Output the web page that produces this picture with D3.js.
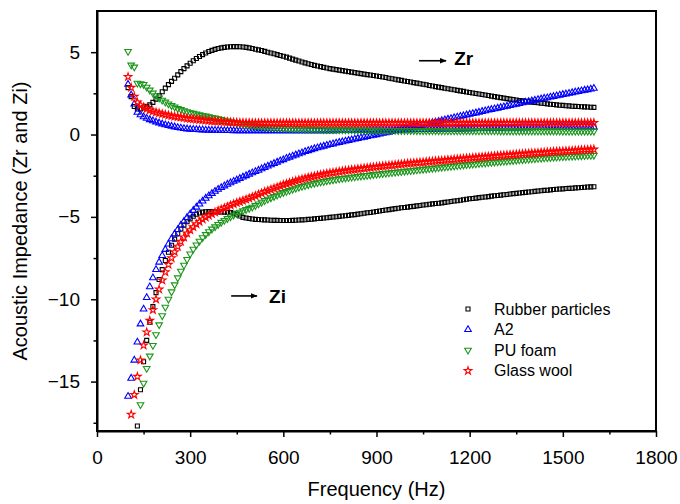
<!DOCTYPE html>
<html>
<head>
<meta charset="utf-8">
<script src="https://cdn.jsdelivr.net/npm/d3@7"></script>
<style>
  body { margin: 0; background: #fff; overflow: hidden; }
  svg { display: block; }
  text { font-family: "Liberation Sans", Arial, sans-serif; }
  .axis .domain { stroke-width: 2px; }
  .axis line { stroke-width: 1.5px; }
</style>
</head>
<body>
<svg width="680" height="504"></svg>
<script>
// frequency points, 100..1600 Hz every 10 Hz
const freq = d3.range(100, 1601, 10);

// Rubber particles
const rubberZr = [2.85, 2.3, 1.7, 1.55, 1.55, 1.62, 1.7, 1.8, 1.95, 2.15,
  2.36, 2.6, 2.82, 3.03, 3.23, 3.42, 3.62, 3.82, 4.0, 4.17,
  4.33, 4.48, 4.62, 4.74, 4.85, 4.95, 5.04, 5.11, 5.17, 5.22,
  5.26, 5.29, 5.31, 5.33, 5.34, 5.34, 5.33, 5.31, 5.29, 5.26,
  5.22, 5.18, 5.14, 5.1, 5.05, 5.0, 4.95, 4.9, 4.85, 4.8,
  4.75, 4.7, 4.64, 4.58, 4.52, 4.46, 4.4, 4.35, 4.3, 4.25,
  4.2, 4.16, 4.12, 4.08, 4.04, 4.0, 3.97, 3.94, 3.91, 3.88,
  3.85, 3.82, 3.79, 3.76, 3.73, 3.7, 3.67, 3.64, 3.61, 3.58,
  3.55, 3.52, 3.49, 3.46, 3.42, 3.39, 3.36, 3.32, 3.29, 3.25,
  3.22, 3.19, 3.15, 3.12, 3.08, 3.05, 3.02, 2.98, 2.95, 2.91,
  2.88, 2.85, 2.81, 2.78, 2.75, 2.72, 2.68, 2.65, 2.62, 2.58,
  2.55, 2.52, 2.49, 2.46, 2.43, 2.4, 2.37, 2.33, 2.3, 2.27,
  2.24, 2.21, 2.18, 2.15, 2.13, 2.1, 2.07, 2.05, 2.02, 2.0,
  1.97, 1.95, 1.93, 1.9, 1.88, 1.86, 1.84, 1.82, 1.8, 1.78,
  1.77, 1.75, 1.74, 1.72, 1.71, 1.7, 1.69, 1.68, 1.67, 1.66,
  1.65];
const rubberZi = [null, null, null, -17.7, -15.5, -13.8, -12.5, -11.4, -10.45, -9.6,
  -8.8, -8.2, -7.65, -7.15, -6.72, -6.35, -6.02, -5.74, -5.5, -5.3,
  -5.12, -4.96, -4.84, -4.76, -4.71, -4.69, -4.68, -4.68, -4.69, -4.7,
  -4.7, -4.71, -4.72, -4.74, -4.78, -4.85, -4.95, -5.03, -5.07, -5.1,
  -5.13, -5.15, -5.16, -5.17, -5.18, -5.19, -5.2, -5.21, -5.21, -5.22,
  -5.22, -5.22, -5.22, -5.21, -5.2, -5.19, -5.18, -5.17, -5.15, -5.14,
  -5.12, -5.1, -5.09, -5.07, -5.05, -5.03, -5.01, -4.99, -4.97, -4.95,
  -4.93, -4.91, -4.88, -4.86, -4.83, -4.81, -4.78, -4.75, -4.73, -4.7,
  -4.67, -4.64, -4.61, -4.58, -4.56, -4.53, -4.5, -4.48, -4.45, -4.43,
  -4.41, -4.38, -4.36, -4.33, -4.31, -4.28, -4.26, -4.23, -4.21, -4.19,
  -4.17, -4.15, -4.12, -4.1, -4.07, -4.04, -4.02, -3.99, -3.96, -3.93,
  -3.9, -3.88, -3.86, -3.83, -3.81, -3.79, -3.77, -3.74, -3.72, -3.7,
  -3.68, -3.66, -3.64, -3.61, -3.59, -3.57, -3.55, -3.53, -3.51, -3.49,
  -3.47, -3.45, -3.43, -3.41, -3.39, -3.38, -3.36, -3.34, -3.32, -3.31,
  -3.3, -3.28, -3.27, -3.26, -3.24, -3.23, -3.22, -3.2, -3.19, -3.18,
  -3.17];

// A2
const a2Zr = [3.05, 2.4, 1.85, 1.35, 1.2, 1.07, 0.98, 0.9, 0.83, 0.76,
  0.7, 0.64, 0.59, 0.54, 0.5, 0.46, 0.42, 0.39, 0.36, 0.34,
  0.32, 0.31, 0.3, 0.29, 0.28, 0.27, 0.26, 0.26, 0.25, 0.25,
  0.25, 0.24, 0.24, 0.24, 0.23, 0.23, 0.23, 0.23, 0.22, 0.22,
  0.22, 0.22, 0.22, 0.22, 0.22, 0.22, 0.22, 0.22, 0.22, 0.22,
  0.22, 0.22, 0.22, 0.22, 0.22, 0.22, 0.22, 0.22, 0.22, 0.22,
  0.22, 0.22, 0.22, 0.23, 0.23, 0.23, 0.23, 0.23, 0.24, 0.24,
  0.24, 0.24, 0.24, 0.25, 0.25, 0.25, 0.25, 0.26, 0.26, 0.26,
  0.26, 0.26, 0.27, 0.27, 0.27, 0.28, 0.28, 0.28, 0.28, 0.29,
  0.29, 0.29, 0.29, 0.3, 0.3, 0.3, 0.3, 0.31, 0.31, 0.31,
  0.32, 0.32, 0.32, 0.33, 0.33, 0.33, 0.34, 0.34, 0.34, 0.35,
  0.35, 0.35, 0.36, 0.36, 0.36, 0.37, 0.37, 0.37, 0.38, 0.38,
  0.38, 0.39, 0.39, 0.39, 0.4, 0.4, 0.4, 0.41, 0.41, 0.41,
  0.41, 0.42, 0.42, 0.42, 0.42, 0.43, 0.43, 0.43, 0.43, 0.44,
  0.44, 0.44, 0.44, 0.44, 0.45, 0.45, 0.45, 0.45, 0.45, 0.45,
  0.45];
const a2Zi = [-15.9, -14.8, -13.7, -12.6, -11.5, -10.6, -9.9, -9.25, -8.7, -8.2,
  -7.75, -7.35, -6.98, -6.65, -6.33, -6.04, -5.77, -5.51, -5.27, -5.04,
  -4.82, -4.61, -4.41, -4.22, -4.04, -3.87, -3.72, -3.58, -3.45, -3.33,
  -3.22, -3.12, -3.02, -2.93, -2.84, -2.76, -2.67, -2.58, -2.5, -2.41,
  -2.33, -2.25, -2.17, -2.08, -2.0, -1.92, -1.84, -1.76, -1.68, -1.6,
  -1.53, -1.45, -1.38, -1.31, -1.24, -1.17, -1.11, -1.04, -0.98, -0.92,
  -0.86, -0.81, -0.76, -0.71, -0.66, -0.61, -0.57, -0.52, -0.48, -0.44,
  -0.4, -0.36, -0.32, -0.28, -0.24, -0.2, -0.16, -0.12, -0.08, -0.05,
  -0.01, 0.03, 0.07, 0.1, 0.14, 0.18, 0.22, 0.26, 0.3, 0.34,
  0.38, 0.42, 0.46, 0.5, 0.55, 0.59, 0.63, 0.67, 0.72, 0.76,
  0.8, 0.84, 0.89, 0.93, 0.97, 1.02, 1.06, 1.1, 1.14, 1.19,
  1.23, 1.27, 1.31, 1.35, 1.4, 1.44, 1.48, 1.52, 1.56, 1.6,
  1.64, 1.68, 1.72, 1.76, 1.8, 1.84, 1.88, 1.92, 1.96, 2.0,
  2.04, 2.08, 2.12, 2.16, 2.2, 2.23, 2.27, 2.31, 2.35, 2.39,
  2.43, 2.46, 2.5, 2.54, 2.58, 2.61, 2.65, 2.69, 2.72, 2.76,
  2.8];

// PU foam
const puZr = [5.05, 4.22, 4.1, 3.12, 3.08, 3.04, 2.88, 2.7, 2.52, 2.36,
  2.22, 2.09, 1.97, 1.86, 1.76, 1.67, 1.59, 1.52, 1.45, 1.39,
  1.33, 1.29, 1.25, 1.2, 1.16, 1.12, 1.08, 1.04, 1.0, 0.96,
  0.92, 0.87, 0.82, 0.78, 0.74, 0.7, 0.67, 0.63, 0.6, 0.57,
  0.54, 0.52, 0.5, 0.48, 0.46, 0.45, 0.43, 0.42, 0.41, 0.4,
  0.39, 0.38, 0.37, 0.36, 0.35, 0.34, 0.34, 0.33, 0.33, 0.32,
  0.32, 0.31, 0.31, 0.3, 0.3, 0.3, 0.29, 0.29, 0.29, 0.28,
  0.28, 0.28, 0.28, 0.27, 0.27, 0.27, 0.27, 0.26, 0.26, 0.26,
  0.26, 0.26, 0.25, 0.25, 0.25, 0.25, 0.25, 0.24, 0.24, 0.24,
  0.24, 0.24, 0.24, 0.23, 0.23, 0.23, 0.23, 0.23, 0.23, 0.23,
  0.22, 0.22, 0.22, 0.22, 0.22, 0.22, 0.22, 0.22, 0.22, 0.22,
  0.22, 0.22, 0.22, 0.22, 0.22, 0.22, 0.22, 0.22, 0.22, 0.22,
  0.21, 0.21, 0.21, 0.21, 0.21, 0.21, 0.21, 0.21, 0.21, 0.21,
  0.21, 0.21, 0.21, 0.21, 0.21, 0.21, 0.21, 0.21, 0.21, 0.21,
  0.2, 0.2, 0.2, 0.2, 0.2, 0.2, 0.2, 0.2, 0.2, 0.2,
  0.2];
const puZi = [null, null, null, null, -16.4, -15.1, -14.2, -13.45, -12.8, -12.15,
  -11.55, -11.0, -10.48, -10.0, -9.55, -9.12, -8.7, -8.3, -7.93, -7.58,
  -7.25, -6.96, -6.7, -6.47, -6.26, -6.07, -5.9, -5.74, -5.6, -5.46,
  -5.33, -5.21, -5.1, -4.99, -4.89, -4.8, -4.71, -4.63, -4.55, -4.48,
  -4.41, -4.31, -4.21, -4.11, -4.01, -3.92, -3.84, -3.76, -3.68, -3.6,
  -3.52, -3.45, -3.39, -3.32, -3.26, -3.2, -3.15, -3.1, -3.05, -3.0,
  -2.96, -2.92, -2.88, -2.85, -2.81, -2.78, -2.75, -2.72, -2.69, -2.66,
  -2.64, -2.62, -2.59, -2.57, -2.54, -2.52, -2.5, -2.48, -2.46, -2.43,
  -2.41, -2.39, -2.37, -2.35, -2.33, -2.31, -2.29, -2.27, -2.25, -2.23,
  -2.21, -2.19, -2.17, -2.15, -2.13, -2.11, -2.09, -2.07, -2.05, -2.03,
  -2.01, -1.99, -1.97, -1.95, -1.93, -1.91, -1.89, -1.87, -1.85, -1.83,
  -1.82, -1.8, -1.78, -1.76, -1.74, -1.73, -1.71, -1.69, -1.67, -1.66,
  -1.64, -1.62, -1.61, -1.59, -1.58, -1.56, -1.54, -1.53, -1.51, -1.5,
  -1.48, -1.47, -1.45, -1.44, -1.42, -1.41, -1.4, -1.38, -1.37, -1.36,
  -1.35, -1.34, -1.33, -1.32, -1.31, -1.3, -1.29, -1.28, -1.27, -1.27,
  -1.26];

// Glass wool
const glassZr = [3.5, 2.85, 2.3, 1.95, 1.78, 1.66, 1.56, 1.48, 1.41, 1.35,
  1.3, 1.25, 1.21, 1.17, 1.13, 1.1, 1.07, 1.04, 1.01, 0.98,
  0.96, 0.94, 0.92, 0.9, 0.88, 0.86, 0.84, 0.82, 0.81, 0.8,
  0.78, 0.77, 0.76, 0.75, 0.74, 0.73, 0.72, 0.72, 0.71, 0.71,
  0.7, 0.7, 0.7, 0.7, 0.7, 0.7, 0.7, 0.7, 0.7, 0.7,
  0.7, 0.7, 0.7, 0.7, 0.7, 0.7, 0.7, 0.7, 0.7, 0.7,
  0.7, 0.7, 0.7, 0.7, 0.7, 0.7, 0.7, 0.7, 0.7, 0.7,
  0.7, 0.7, 0.7, 0.7, 0.7, 0.7, 0.7, 0.7, 0.7, 0.7,
  0.7, 0.7, 0.7, 0.7, 0.7, 0.7, 0.7, 0.7, 0.7, 0.7,
  0.7, 0.7, 0.7, 0.7, 0.7, 0.7, 0.7, 0.7, 0.7, 0.7,
  0.7, 0.7, 0.7, 0.7, 0.7, 0.7, 0.7, 0.7, 0.7, 0.7,
  0.7, 0.7, 0.7, 0.7, 0.7, 0.7, 0.7, 0.7, 0.7, 0.7,
  0.71, 0.71, 0.71, 0.71, 0.71, 0.71, 0.71, 0.71, 0.71, 0.71,
  0.71, 0.71, 0.71, 0.71, 0.71, 0.71, 0.71, 0.71, 0.71, 0.71,
  0.71, 0.71, 0.71, 0.71, 0.71, 0.71, 0.71, 0.71, 0.71, 0.71,
  0.71];
const glassZi = [null, -17.0, -15.8, -14.7, -13.7, -12.8, -12.0, -11.3, -10.65, -10.0,
  -9.4, -8.85, -8.35, -7.9, -7.5, -7.13, -6.8, -6.5, -6.24, -6.0,
  -5.8, -5.61, -5.44, -5.29, -5.15, -5.03, -4.92, -4.82, -4.72, -4.63,
  -4.54, -4.46, -4.38, -4.3, -4.22, -4.15, -4.08, -4.01, -3.94, -3.87,
  -3.8, -3.72, -3.64, -3.56, -3.48, -3.41, -3.34, -3.27, -3.2, -3.12,
  -3.05, -2.99, -2.93, -2.87, -2.81, -2.76, -2.71, -2.66, -2.61, -2.57,
  -2.53, -2.49, -2.45, -2.41, -2.37, -2.34, -2.31, -2.28, -2.25, -2.22,
  -2.19, -2.17, -2.14, -2.12, -2.09, -2.07, -2.05, -2.02, -2.0, -1.98,
  -1.96, -1.94, -1.92, -1.9, -1.88, -1.86, -1.84, -1.82, -1.8, -1.78,
  -1.76, -1.74, -1.73, -1.71, -1.69, -1.68, -1.66, -1.64, -1.63, -1.61,
  -1.59, -1.58, -1.56, -1.54, -1.53, -1.51, -1.49, -1.48, -1.46, -1.44,
  -1.43, -1.41, -1.39, -1.38, -1.36, -1.35, -1.33, -1.32, -1.3, -1.29,
  -1.27, -1.26, -1.24, -1.23, -1.21, -1.2, -1.19, -1.17, -1.16, -1.15,
  -1.13, -1.12, -1.11, -1.09, -1.08, -1.07, -1.06, -1.04, -1.03, -1.02,
  -1.01, -1.0, -0.99, -0.98, -0.97, -0.95, -0.94, -0.93, -0.92, -0.91,
  -0.9];

const xTicks = [0, 300, 600, 900, 1200, 1500, 1800];
const yTicks = [-15, -10, -5, 0, 5];
const xLabel = "Frequency (Hz)";
const yLabel = "Acoustic Impedance (Zr and Zi)";

const series = [
  { name: "Rubber particles", color: "#000000", type: d3.symbolSquare, size: 16, rot: 0, zr: rubberZr, zi: rubberZi },
  { name: "A2", color: "#0000ff", type: d3.symbolTriangle, size: 19, rot: 0, zr: a2Zr, zi: a2Zi },
  { name: "PU foam", color: "#1a961a", type: d3.symbolTriangle, size: 19, rot: 180, zr: puZr, zi: puZi },
  { name: "Glass wool", color: "#ff0000", type: d3.symbolStar, size: 18, rot: 0, zr: glassZr, zi: glassZi }
];

const svg = d3.select("svg");
const margin = { top: 11, right: 24, bottom: 73, left: 97 };
const width = +svg.attr("width");
const height = +svg.attr("height");
const innerWidth = width - margin.left - margin.right;
const innerHeight = height - margin.top - margin.bottom;

const g = svg.append("g")
  .attr("transform", `translate(${margin.left},${margin.top})`);

const xScale = d3.scaleLinear().domain([0, 1800]).range([0, innerWidth]);
const yScale = d3.scaleLinear().domain([-18, 7.5]).range([innerHeight, 0]);

svg.append("defs").append("clipPath").attr("id", "plotClip")
  .append("rect").attr("width", innerWidth).attr("height", innerHeight);

// markers
const marksG = g.append("g").attr("clip-path", "url(#plotClip)");
series.forEach(s => {
  const sym = d3.symbol().type(s.type).size(s.size)();
  [s.zr, s.zi].forEach(vals => {
    const pts = freq.map((f, i) => ({ f: f, v: vals[i] })).filter(d => d.v != null);
    marksG.append("g").selectAll("path").data(pts)
      .enter().append("path")
        .attr("d", sym)
        .attr("transform", d => `translate(${xScale(d.f)},${yScale(d.v)}) rotate(${s.rot})`)
        .attr("fill", "none")
        .attr("stroke", s.color)
        .attr("stroke-width", 1.1);
  });
});

// axes
const xAxis = d3.axisBottom(xScale).tickValues(xTicks).tickFormat(d3.format("d"))
  .tickSize(6).tickPadding(14).tickSizeOuter(0);
const xAxisMinor = d3.axisBottom(xScale).tickValues([150, 450, 750, 1050, 1350, 1650]).tickSize(3.5).tickFormat("");
const yAxis = d3.axisLeft(yScale).tickValues(yTicks).tickFormat(d3.format("d"))
  .tickSize(6).tickPadding(11).tickSizeOuter(0);
const yAxisMinor = d3.axisLeft(yScale).tickValues([-17.5, -12.5, -7.5, -2.5, 2.5]).tickSize(3.5).tickFormat("");

const xAxisG = g.append("g").attr("class", "axis")
  .attr("transform", `translate(0,${innerHeight})`);
xAxisG.call(xAxis);
xAxisG.append("g").call(xAxisMinor).call(a => { a.select(".domain").remove(); a.selectAll("text").remove(); });
const yAxisG = g.append("g").attr("class", "axis");
yAxisG.call(yAxis);
yAxisG.append("g").call(yAxisMinor).call(a => { a.select(".domain").remove(); a.selectAll("text").remove(); });
svg.selectAll(".axis text").attr("font-size", 19).attr("fill", "#000")
  .style("font-family", '"Liberation Sans", Arial, sans-serif');

// frame
g.append("rect")
  .attr("width", innerWidth).attr("height", innerHeight)
  .attr("fill", "none").attr("stroke", "#000").attr("stroke-width", 2);

// axis labels
svg.append("text")
  .attr("x", margin.left + innerWidth / 2).attr("y", 496)
  .attr("text-anchor", "middle").attr("font-size", 20)
  .text(xLabel);
svg.append("text")
  .attr("transform", `translate(27,${margin.top + innerHeight / 2}) rotate(-90)`)
  .attr("text-anchor", "middle").attr("font-size", 20)
  .text(yLabel);

// annotations
const notes = [
  { label: "Zr", f0: 1037, f1: 1124, v: 4.48, tf: 1150, tv: 4.2 },
  { label: "Zi", f0: 432, f1: 515, v: -9.8, tf: 554, tv: -10.2 }
];
const defs = svg.select("defs");
defs.append("marker").attr("id", "arrowHead")
  .attr("viewBox", "0 0 10 10").attr("refX", 9).attr("refY", 5)
  .attr("markerWidth", 7).attr("markerHeight", 7).attr("markerUnits", "userSpaceOnUse")
  .attr("orient", "auto")
  .append("path").attr("d", "M0,1L10,5L0,9Z").attr("fill", "#000");
notes.forEach(n => {
  g.append("line")
    .attr("x1", xScale(n.f0)).attr("x2", xScale(n.f1))
    .attr("y1", yScale(n.v)).attr("y2", yScale(n.v))
    .attr("stroke", "#000").attr("stroke-width", 1.6)
    .attr("marker-end", "url(#arrowHead)");
  g.append("text")
    .attr("x", xScale(n.tf)).attr("y", yScale(n.tv))
    .attr("font-size", 19).attr("font-weight", "bold")
    .text(n.label);
});

// legend
const legend = svg.append("g").attr("transform", "translate(468,309)");
series.forEach((s, i) => {
  const row = legend.append("g").attr("transform", `translate(0,${i * 20.6})`);
  row.append("path")
    .attr("d", d3.symbol().type(s.type).size(s.size)())
    .attr("transform", `rotate(${s.rot})`)
    .attr("fill", "none").attr("stroke", s.color).attr("stroke-width", 1.1);
  row.append("text")
    .attr("x", 26).attr("y", 5.5)
    .attr("font-size", 16)
    .text(s.name);
});
</script>
</body>
</html>
